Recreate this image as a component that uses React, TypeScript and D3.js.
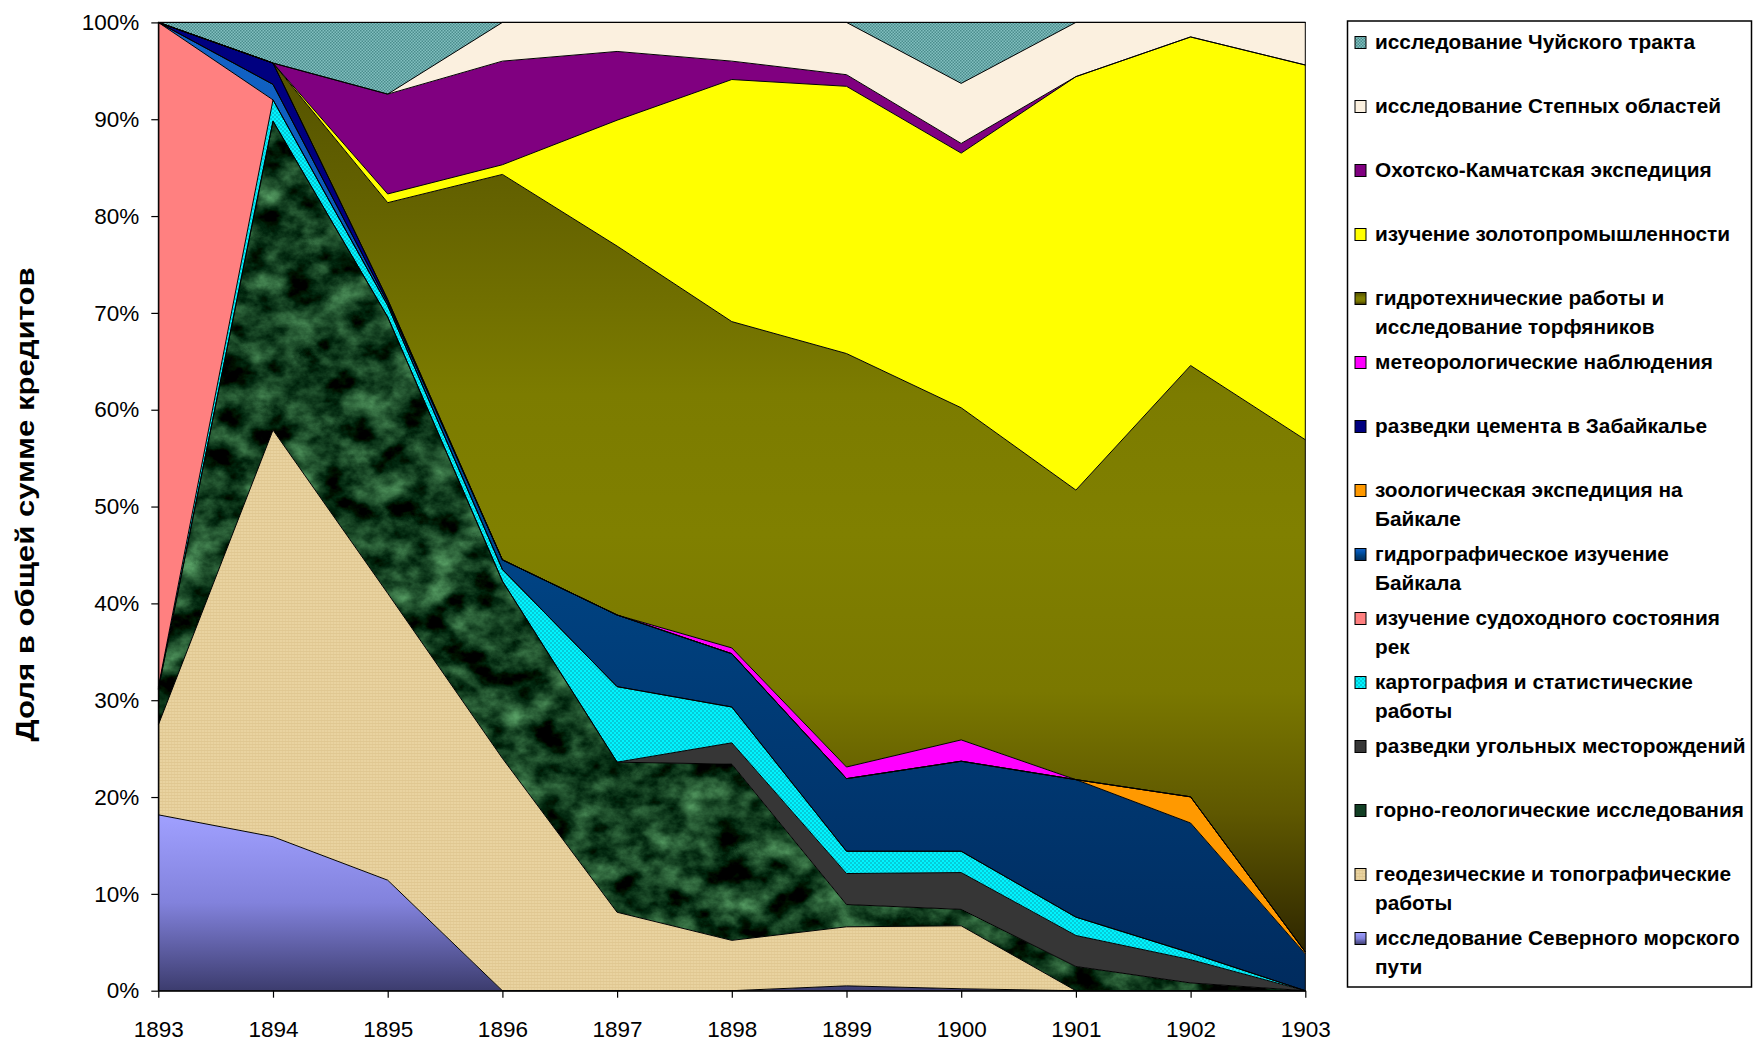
import React, { useRef, useEffect } from 'react'
import * as d3 from 'd3'

const width = 1754
const height = 1042
const plot = { left: 158.3, right: 1305.3, top: 22.4, bottom: 990.7 }

const years = [1893, 1894, 1895, 1896, 1897, 1898, 1899, 1900, 1901, 1902, 1903]

// shares of the credit sum, %, bottom series first
const severnyiPut = [18.2, 15.9, 11.4, 0, 0, 0, 0.5, 0.2, 0, 0, 0]
const geodeziya = [9.3, 42.0, 29.6, 24.0, 8.1, 5.2, 6.1, 6.5, 0, 0, 0]
const gornoGeolog = [3.7, 31.9, 28.5, 18.3, 15.5, 18.2, 2.3, 1.7, 2.5, 0.8, 0]
const ugol = [0, 0, 0, 0, 0, 2.2, 3.2, 3.8, 3.2, 2.4, 0]
const kartografiya = [0.2, 2.2, 1.2, 1.2, 7.8, 3.7, 2.3, 2.2, 1.9, 0.7, 0]
const sudokhodstvo = [68.8, 0, 0, 0, 0, 0, 0, 0, 0, 0, 0]
const gidrografBaikal = [0, 1.6, 0.3, 1.0, 7.4, 5.5, 7.5, 9.3, 14.2, 13.4, 3.8]
const zoologBaikal = [0, 0, 0, 0, 0, 0, 0, 0, 0, 2.7, 0.2]
const cement = [0, 2.2, 0.3, 0, 0, 0, 0, 0, 0, 0, 0]
const meteo = [0, 0, 0, 0, 0, 0.6, 1.2, 2.2, 0, 0, 0]
const gidrotekh = [0, 0, 10.0, 39.8, 38.1, 33.7, 42.7, 34.3, 29.9, 44.5, 52.9]
const zoloto = [0, 0, 0.9, 1.0, 13.0, 25.0, 27.6, 26.3, 42.7, 33.9, 38.7]
const okhotsk = [0, 0, 10.3, 10.7, 7.1, 1.9, 1.2, 1.0, 0, 0, 0]
const stepnye = [0, 0, 0, 4.0, 3.0, 4.0, 5.4, 6.2, 5.6, 1.5, 4.4]
const chuya = [0, 4.2, 7.4, 0, 0, 0, 0, 6.3, 0, 0, 0]

const seriesValues = [
  severnyiPut, geodeziya, gornoGeolog, ugol, kartografiya, sudokhodstvo, gidrografBaikal,
  zoologBaikal, cement, meteo, gidrotekh, zoloto, okhotsk, stepnye, chuya
]

// legend text, same order as seriesValues (one entry per line)
const seriesNames = [
  ['исследование Северного морского', 'пути'],
  ['геодезические и топографические', 'работы'],
  ['горно-геологические исследования'],
  ['разведки угольных месторождений'],
  ['картография и статистические', 'работы'],
  ['изучение судоходного состояния', 'рек'],
  ['гидрографическое изучение', 'Байкала'],
  ['зоологическая экспедиция на', 'Байкале'],
  ['разведки цемента в Забайкалье'],
  ['метеорологические наблюдения'],
  ['гидротехнические работы и', 'исследование торфяников'],
  ['изучение золотопромышленности'],
  ['Охотско-Камчатская экспедиция'],
  ['исследование Степных областей'],
  ['исследование Чуйского тракта']
]

const fills = [
  'url(#gNorth)', 'url(#pPaper)', '#174a2b', '#363636', 'url(#pDots)', '#ff8080', 'url(#gHydro)',
  '#ff9900', '#000080', '#ff00ff', 'url(#gOlive)', '#ffff00', '#800080', '#fbf0df', 'url(#pTeal)'
]

const fontFamily = 'Arial, "Liberation Sans", sans-serif'

const App: React.FC = () => {
  const svgRef = useRef<SVGSVGElement>(null)

  useEffect(() => {
    if (!svgRef.current) return
    const svg = d3.select(svgRef.current)
    svg.select('g.chart').remove()
    const g = svg.append('g').attr('class', 'chart')

    const keys = seriesValues.map((_, i) => `s${i}`)
    const rows = years.map((year, j) => {
      const row: any = { year }
      seriesValues.forEach((vals, i) => { row[`s${i}`] = vals[j] })
      return row
    })
    const stacked = d3.stack().keys(keys).offset(d3.stackOffsetExpand)(rows)

    const x = d3.scaleLinear().domain([1893, 1903]).range([plot.left, plot.right])
    const y = d3.scaleLinear().domain([0, 1]).range([plot.bottom, plot.top])

    const area = d3.area<any>()
      .x(d => x(d.data.year))
      .y0(d => y(d[0]))
      .y1(d => y(d[1]))
    const topLine = d3.line<any>()
      .x(d => x(d.data.year))
      .y(d => y(d[1]))

    stacked.forEach((s, i) => {
      g.append('path')
        .attr('d', area(s) || '')
        .attr('fill', fills[i])
        .attr('filter', i === 2 ? 'url(#marble)' : null)
    })
    stacked.forEach((s) => {
      g.append('path')
        .attr('d', topLine(s) || '')
        .attr('fill', 'none')
        .attr('stroke', '#000')
        .attr('stroke-width', 1)
        .attr('stroke-linejoin', 'round')
    })

    g.append('rect')
      .attr('x', plot.left).attr('y', plot.top)
      .attr('width', plot.right - plot.left).attr('height', plot.bottom - plot.top)
      .attr('fill', 'none').attr('stroke', '#000').attr('stroke-width', 1)

    const xAxis = g.append('g')
      .attr('transform', `translate(0,${plot.bottom})`)
      .call(d3.axisBottom(x).tickValues(years).tickFormat(d3.format('d') as any)
        .tickSize(7).tickSizeOuter(0).tickPadding(23))
    const yAxis = g.append('g')
      .attr('transform', `translate(${plot.left},0)`)
      .call(d3.axisLeft(y).tickValues(d3.range(0, 11).map(k => k / 10)).tickFormat(d3.format('.0%') as any)
        .tickSize(7).tickSizeOuter(0).tickPadding(12))
    ;[xAxis, yAxis].forEach(ax => {
      ax.attr('font-family', fontFamily).attr('font-size', 22.5)
      ax.selectAll('text').attr('fill', '#000')
      ax.selectAll('line, path').attr('stroke', '#000').attr('stroke-width', 1.2)
    })

    g.append('text')
      .attr('transform', 'translate(34,504.5) rotate(-90)')
      .attr('text-anchor', 'middle')
      .attr('font-family', fontFamily)
      .attr('font-weight', 'bold')
      .attr('font-size', 25)
      .attr('textLength', 474)
      .attr('lengthAdjust', 'spacingAndGlyphs')
      .text('Доля в общей сумме кредитов')

    // legend
    const lg = g.append('g')
    lg.append('rect')
      .attr('x', 1347.5).attr('y', 21).attr('width', 404).attr('height', 966)
      .attr('fill', '#fff').attr('stroke', '#000').attr('stroke-width', 1.5)
    const order = d3.range(seriesValues.length).reverse()
    order.forEach((si, k) => {
      const base = 48.5 + 64 * k
      lg.append('rect')
        .attr('x', 1355).attr('y', base - 12).attr('width', 11).attr('height', 12)
        .attr('fill', si === 2 ? '#123f24' : fills[si]).attr('stroke', '#000').attr('stroke-width', 1)
      seriesNames[si].forEach((line, li) => {
        lg.append('text')
          .attr('x', 1375).attr('y', base + li * 29)
          .attr('font-family', fontFamily)
          .attr('font-weight', 'bold')
          .attr('font-size', 20.8)
          .attr('fill', '#000')
          .text(line)
      })
    })
  }, [])

  return (
    <svg
      ref={svgRef}
      width={width}
      height={height}
      style={{ position: 'absolute', left: 0, top: 0, background: '#fff' }}
    >
      <defs>
        <linearGradient id="gNorth" x1="0" y1="0" x2="0" y2="1">
          <stop offset="0" stopColor="#a0a0ff" />
          <stop offset="0.5" stopColor="#8282dc" />
          <stop offset="1" stopColor="#3c3c6e" />
        </linearGradient>
        <linearGradient id="gHydro" x1="0" y1="0" x2="0" y2="1">
          <stop offset="0" stopColor="#1464c8" />
          <stop offset="0.35" stopColor="#0050a8" />
          <stop offset="0.6" stopColor="#00417f" />
          <stop offset="1" stopColor="#002b5e" />
        </linearGradient>
        <linearGradient id="gOlive" x1="0" y1="0" x2="0" y2="1">
          <stop offset="0" stopColor="#4f4d00" />
          <stop offset="0.2" stopColor="#656300" />
          <stop offset="0.4" stopColor="#7c7c00" />
          <stop offset="0.55" stopColor="#808000" />
          <stop offset="0.72" stopColor="#7a7800" />
          <stop offset="0.85" stopColor="#5f5800" />
          <stop offset="1" stopColor="#2e2600" />
        </linearGradient>
        <pattern id="pPaper" width="3" height="3" patternUnits="userSpaceOnUse">
          <rect width="3" height="3" fill="#e9d3a0" />
          <rect width="3" height="1" fill="#dbc189" opacity="0.6" />
          <rect width="1" height="3" fill="#dfc690" opacity="0.5" />
        </pattern>
        <pattern id="pDots" width="4" height="4" patternUnits="userSpaceOnUse">
          <rect width="4" height="4" fill="#00f4ff" />
          <circle cx="1" cy="1" r="0.8" fill="#0a97a8" />
          <circle cx="3" cy="3" r="0.8" fill="#0a97a8" />
        </pattern>
        <pattern id="pTeal" width="3" height="3" patternUnits="userSpaceOnUse">
          <rect width="3" height="3" fill="#82c0c0" />
          <rect width="1.5" height="1.5" fill="#4b8c8c" />
          <rect x="1.5" y="1.5" width="1.5" height="1.5" fill="#4b8c8c" />
        </pattern>
        <filter id="marble" x="0" y="0" width="1" height="1" colorInterpolationFilters="sRGB">
          <feTurbulence type="fractalNoise" baseFrequency="0.028 0.036" numOctaves="5" seed="7" result="n" />
          <feColorMatrix
            in="n"
            type="matrix"
            values="0.75 0 0 0 -0.3 1.05 0 0 0 -0.28  0.75 0 0 0 -0.25  0 0 0 0 1"
            result="c"
          />
          <feComposite in="c" in2="SourceGraphic" operator="in" />
        </filter>
      </defs>
    </svg>
  )
}

export default App
